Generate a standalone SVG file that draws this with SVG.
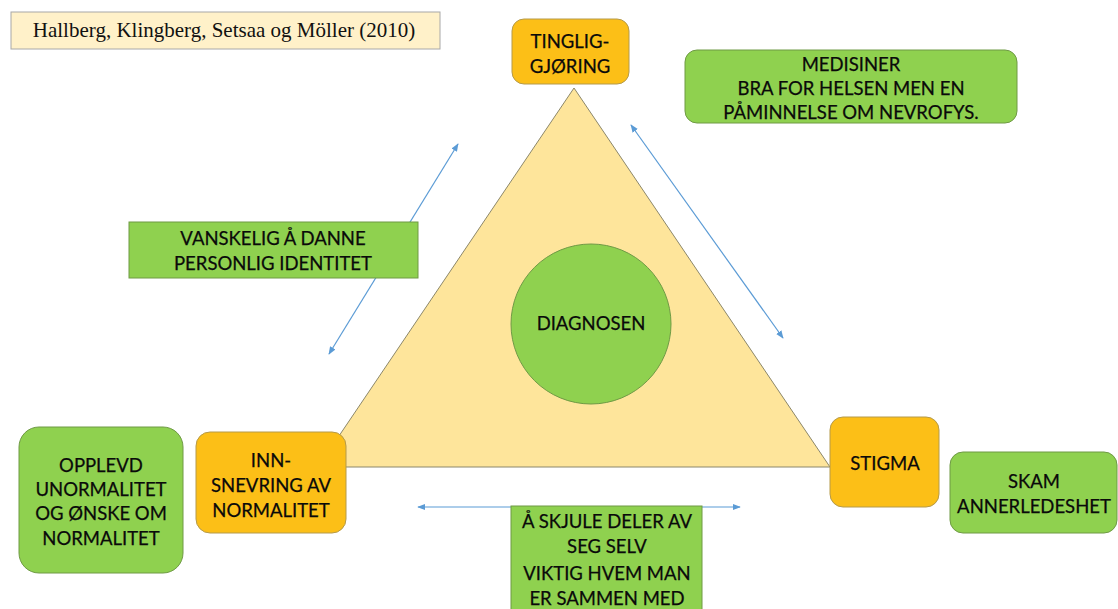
<svg xmlns="http://www.w3.org/2000/svg" width="1118" height="609" viewBox="0 0 1118 609">
  <defs>
    <style>
      .lbl { font-family: Lato, "Liberation Sans", sans-serif; font-size: 18.5px; fill: #0a0a0a; text-anchor: middle; stroke: #0a0a0a; stroke-width: 0.25px; }
      .orange { fill: #fcbf17; stroke: #b59a4a; stroke-width: 1; }
      .green { fill: #8fd14f; stroke: #6f9a45; stroke-width: 1; }
      .conn { stroke: #5b9bd5; stroke-width: 1.2; fill: none; marker-start: url(#ah); marker-end: url(#ah); }
    </style>
    <marker id="ah" viewBox="0 0 10 10" refX="9" refY="5" markerWidth="8" markerHeight="8" orient="auto-start-reverse" markerUnits="userSpaceOnUse">
      <path d="M0,1 L10,5 L0,9 Z" fill="#5b9bd5"/>
    </marker>
  </defs>

  <rect width="1118" height="609" fill="#ffffff"/>

  <!-- citation -->
  <g id="citation">
    <rect x="11" y="12" width="429" height="37" fill="#fff1c9" stroke="#a8a8a8" stroke-width="1"/>
    <text x="224" y="37" font-family="Liberation Serif, serif" font-size="21" fill="#111" text-anchor="middle">Hallberg, Klingberg, Setsaa og Möller (2010)</text>
  </g>

  <!-- central triangle -->
  <g id="triangle">
    <polygon points="574,88 318,467 830,467" fill="#fee59b" stroke="#8c876a" stroke-width="1"/>
  </g>

  <g id="diagnosen">
    <circle cx="591" cy="324" r="80" class="green"/>
    <text x="591" y="330" class="lbl">DIAGNOSEN</text>
  </g>

  <!-- connectors -->
  <g id="connectors">
    <line x1="329" y1="354" x2="458" y2="144" class="conn"/>
    <line x1="631" y1="125" x2="783" y2="338" class="conn"/>
    <line x1="418" y1="507" x2="740" y2="507" class="conn"/>
  </g>

  <g id="tingliggjoring">
    <rect x="512" y="19" width="117" height="65" rx="12" class="orange"/>
    <text x="570" y="48" class="lbl">TINGLIG-</text>
    <text x="570" y="73" class="lbl">GJØRING</text>
  </g>

  <g id="medisiner">
    <rect x="685" y="50" width="332" height="73" rx="12" class="green"/>
    <text x="851" y="71" class="lbl">MEDISINER</text>
    <text x="851" y="95" class="lbl">BRA FOR HELSEN MEN EN</text>
    <text x="851" y="119" class="lbl">PÅMINNELSE OM NEVROFYS.</text>
  </g>

  <g id="vanskelig">
    <rect x="129" y="222" width="289" height="56" class="green"/>
    <text x="273" y="245" class="lbl">VANSKELIG Å DANNE</text>
    <text x="273" y="270" class="lbl">PERSONLIG IDENTITET</text>
  </g>

  <g id="opplevd">
    <rect x="19" y="427" width="164" height="146" rx="20" class="green"/>
    <text x="101" y="472" class="lbl">OPPLEVD</text>
    <text x="101" y="496" class="lbl">UNORMALITET</text>
    <text x="101" y="520" class="lbl">OG ØNSKE OM</text>
    <text x="101" y="545" class="lbl">NORMALITET</text>
  </g>

  <g id="innsnevring">
    <rect x="196" y="432" width="150" height="101" rx="14" class="orange"/>
    <text x="271" y="467" class="lbl">INN-</text>
    <text x="271" y="492" class="lbl">SNEVRING AV</text>
    <text x="271" y="517" class="lbl">NORMALITET</text>
  </g>

  <g id="skjule">
    <rect x="511" y="506" width="191" height="110" class="green"/>
    <text x="607" y="528" class="lbl">Å SKJULE DELER AV</text>
    <text x="607" y="553" class="lbl">SEG SELV</text>
    <text x="607" y="580" class="lbl">VIKTIG HVEM MAN</text>
    <text x="607" y="605" class="lbl">ER SAMMEN MED</text>
  </g>

  <g id="stigma">
    <rect x="830" y="417" width="109" height="90" rx="13" class="orange"/>
    <text x="885" y="470" class="lbl">STIGMA</text>
  </g>

  <g id="skam">
    <rect x="950" y="452" width="167" height="81" rx="13" class="green"/>
    <text x="1034" y="488" class="lbl">SKAM</text>
    <text x="1034" y="513" class="lbl">ANNERLEDESHET</text>
  </g>
</svg>
